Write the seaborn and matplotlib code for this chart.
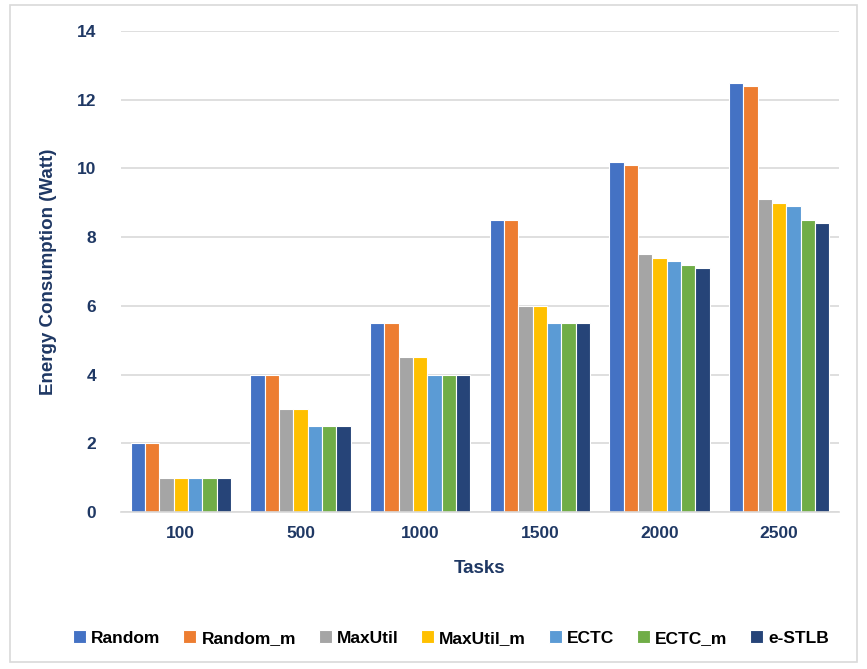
import matplotlib
matplotlib.use("Agg")
import matplotlib.pyplot as plt
import seaborn as sns
import pandas as pd
from matplotlib.patches import Rectangle

tasks = ["100", "500", "1000", "1500", "2000", "2500"]
methods = ["Random", "Random_m", "MaxUtil", "MaxUtil_m", "ECTC", "ECTC_m", "e-STLB"]
random_e = [2.0, 4.0, 5.5, 8.5, 10.2, 12.5]
random_m_e = [2.0, 4.0, 5.5, 8.5, 10.1, 12.4]
maxutil_e = [1.0, 3.0, 4.5, 6.0, 7.5, 9.1]
maxutil_m_e = [1.0, 3.0, 4.5, 6.0, 7.4, 9.0]
ectc_e = [1.0, 2.5, 4.0, 5.5, 7.3, 8.9]
ectc_m_e = [1.0, 2.5, 4.0, 5.5, 7.2, 8.5]
estlb_e = [1.0, 2.5, 4.0, 5.5, 7.1, 8.4]
colors = ["#4472C4", "#ED7D31", "#A5A5A5", "#FFC000", "#5B9BD5", "#70AD47", "#264478"]

series = [random_e, random_m_e, maxutil_e, maxutil_m_e, ectc_e, ectc_m_e, estlb_e]
rows = []
for m, vals in zip(methods, series):
    for t, v in zip(tasks, vals):
        rows.append({"Tasks": t, "Method": m, "Energy": v})
df = pd.DataFrame(rows)

sns.set_theme(style="white")
plt.rcParams["font.family"] = ["Liberation Sans", "DejaVu Sans"]
navy = "#1F3864"

fig = plt.figure(figsize=(8.67, 6.69), dpi=100)
ax = fig.add_axes([121 / 867, 1 - 512 / 669, (839 - 121) / 867, (512 - 31) / 669])

sns.barplot(data=df, x="Tasks", y="Energy", hue="Method", order=tasks,
            hue_order=methods, palette=colors, saturation=1, width=0.84, ax=ax,
            edgecolor="white", linewidth=0.8, legend=True)

ax.set_ylim(0, 14)
ax.set_yticks(range(0, 15, 2))
ax.yaxis.grid(True, color="#D9D9D9", linewidth=1.2)
ax.set_axisbelow(True)
for s in ["top", "right", "left"]:
    ax.spines[s].set_visible(False)
ax.spines["bottom"].set_color("#D9D9D9")
ax.spines["bottom"].set_linewidth(1.2)
ax.tick_params(axis="both", length=0, labelsize=12.5, labelcolor=navy)
ax.tick_params(axis="y", pad=18)
ax.tick_params(axis="x", pad=10)
for lbl in ax.get_xticklabels() + ax.get_yticklabels():
    lbl.set_fontweight("bold")
ax.set_xlabel("Tasks", fontsize=13.5, fontweight="bold", color=navy, labelpad=14)
ax.set_ylabel("Energy Consumption (Watt)", fontsize=13.5, fontweight="bold",
              color=navy, labelpad=14)

handles, labels = ax.get_legend_handles_labels()
ax.legend_.remove()
fig.legend(handles, labels, loc="center", bbox_to_anchor=(451 / 867, 1 - 638 / 669),
           ncol=7, frameon=False, handlelength=0.75, handleheight=0.75,
           handletextpad=0.3, columnspacing=1.3,
           prop={"weight": "bold", "size": 12.5})
for txt in fig.legends[0].get_texts():
    txt.set_color("black")

fig.patches.append(Rectangle((10 / 867, 1 - 662 / 669), 847 / 867, 657 / 669,
                             transform=fig.transFigure, fill=False,
                             edgecolor="#D9D9D9", linewidth=1.2))

fig.savefig("out.png", dpi=100)
